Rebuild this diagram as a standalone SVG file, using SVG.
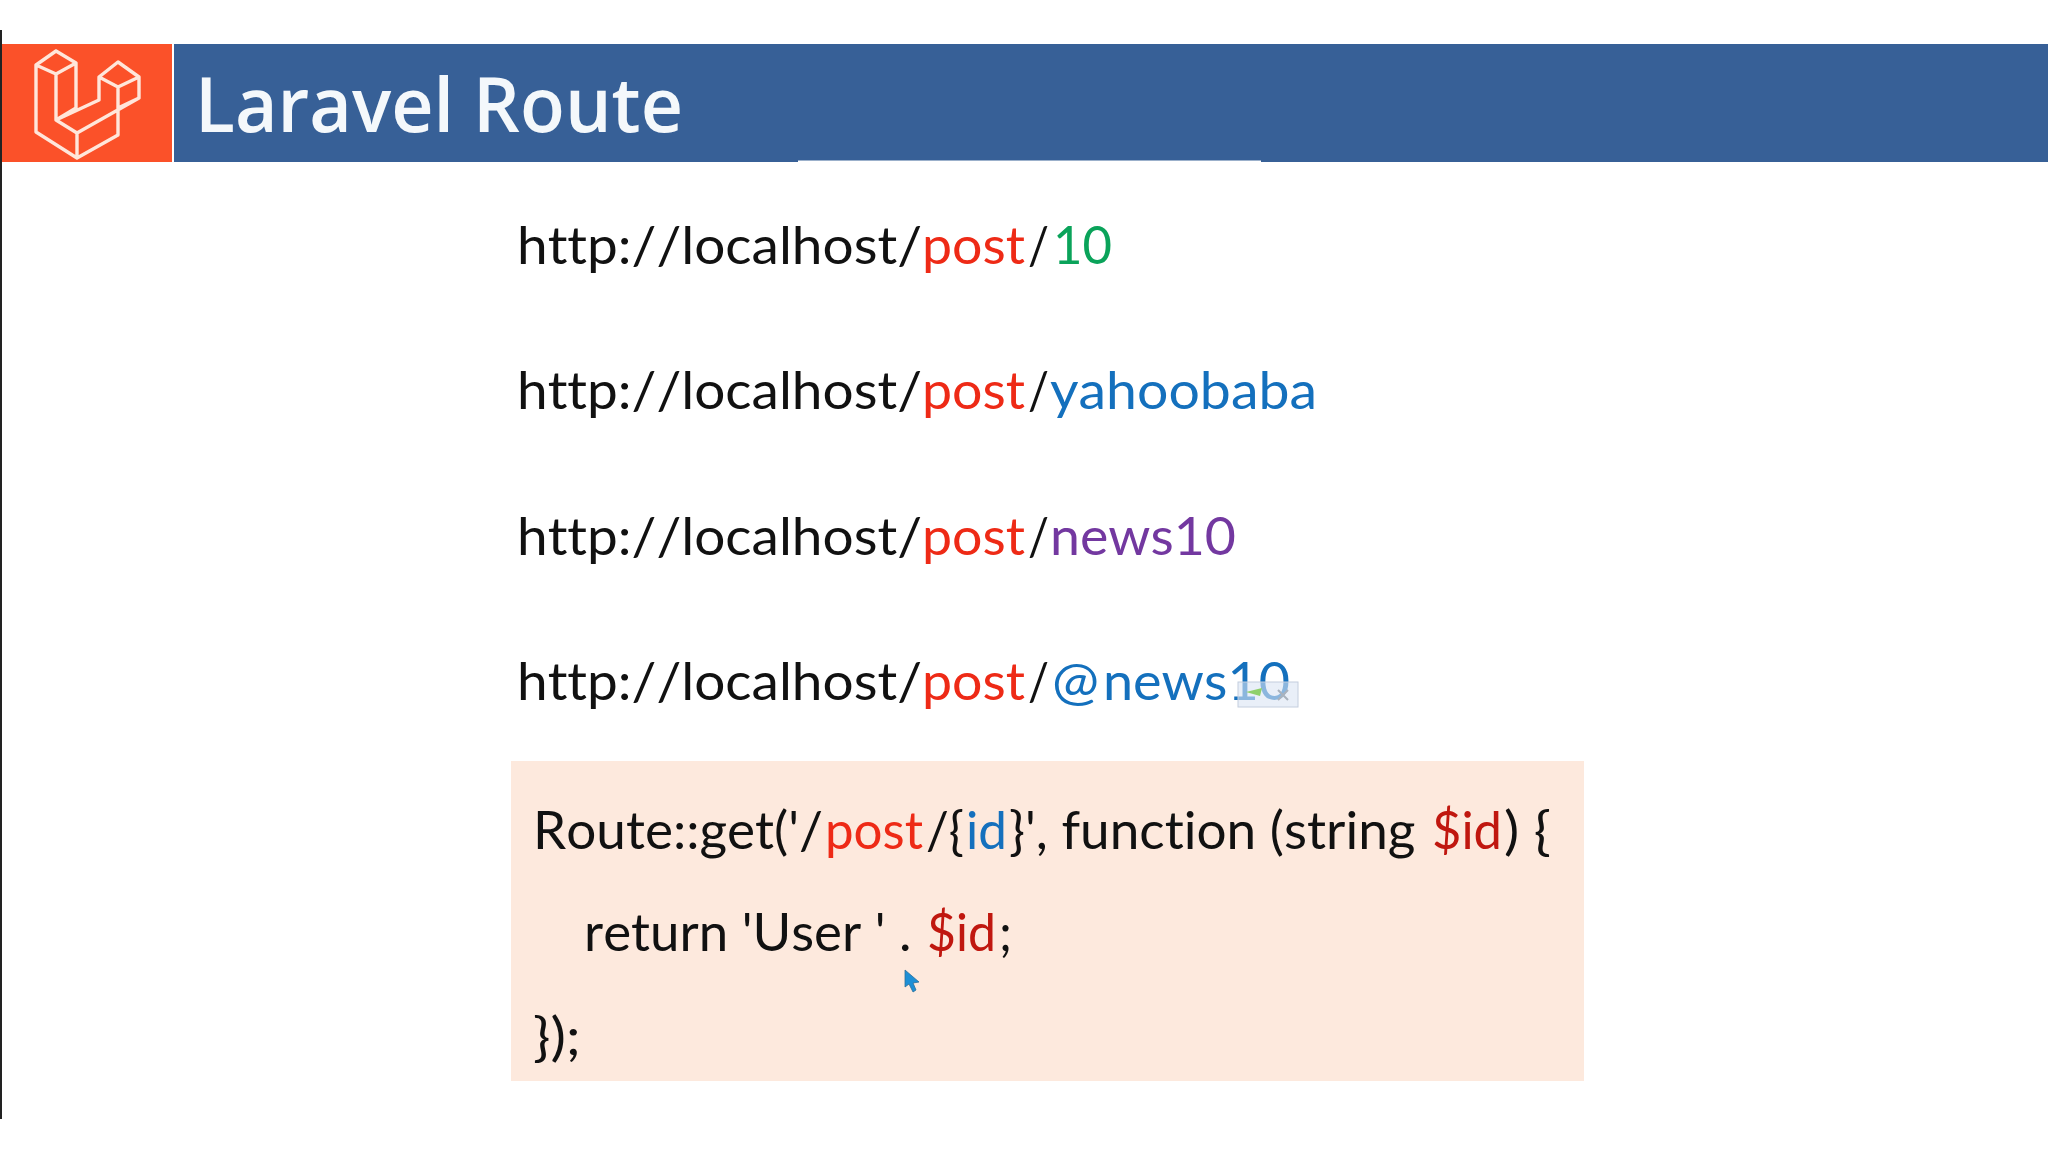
<svg xmlns="http://www.w3.org/2000/svg" width="2048" height="1152" viewBox="0 0 2048 1152">
<style>
text{font-family:"Lato","Liberation Sans",sans-serif;font-size:52px;fill:#111;white-space:pre;font-variant-ligatures:none;font-kerning:none}
.t{font-family:"Open Sans","Liberation Sans",sans-serif;font-size:76px;font-weight:600;fill:#f4f8fb}
.r{fill:#ee2a16}.d{fill:#c0170f}.g{fill:#0aa35a}.b{fill:#1470bd}.p{fill:#7338a0}
.logo{fill:none;stroke:#ffe6da;stroke-width:3.4;stroke-linejoin:round;stroke-linecap:round}
</style>
<rect width="2048" height="1152" fill="#fff"/>
<rect x="0" y="30" width="2" height="1089" fill="#222"/>
<g id="header">
<rect x="2" y="44" width="170" height="118" fill="#fb5129"/>
<rect x="174" y="44" width="1874" height="118" fill="#376097"/>
<rect x="798" y="160.5" width="463" height="2" fill="#fff"/>
<path class="logo" d="M56 51L36 65V132L77 158L118 135V108L139 98V77L118 62L99 77V100L56 120V74L36 65M56 51L76 63L56 74M76 63V108L56 120L77 133V158M77 133L139 98M99 77L118 87L139 77M118 87V135"/>
<text class="t" x="195" y="132" textLength="488" lengthAdjust="spacingAndGlyphs">Laravel Route</text>
</g>
<g id="urls">
<text x="517" y="264" textLength="405" lengthAdjust="spacingAndGlyphs">http://localhost/</text>
<text class="r" x="922" y="264" textLength="103" lengthAdjust="spacingAndGlyphs">post</text>
<text x="1028" y="264" textLength="21" lengthAdjust="spacingAndGlyphs">/</text>
<text class="g" x="1053" y="264" textLength="59" lengthAdjust="spacingAndGlyphs">10</text>
<text x="517" y="409" textLength="405" lengthAdjust="spacingAndGlyphs">http://localhost/</text>
<text class="r" x="922" y="409" textLength="103" lengthAdjust="spacingAndGlyphs">post</text>
<text x="1028" y="409" textLength="21" lengthAdjust="spacingAndGlyphs">/</text>
<text class="b" x="1050" y="409" textLength="267" lengthAdjust="spacingAndGlyphs">yahoobaba</text>
<text x="517" y="555" textLength="405" lengthAdjust="spacingAndGlyphs">http://localhost/</text>
<text class="r" x="922" y="555" textLength="103" lengthAdjust="spacingAndGlyphs">post</text>
<text x="1028" y="555" textLength="21" lengthAdjust="spacingAndGlyphs">/</text>
<text class="p" x="1050" y="555" textLength="186" lengthAdjust="spacingAndGlyphs">news10</text>
<text x="517" y="700" textLength="405" lengthAdjust="spacingAndGlyphs">http://localhost/</text>
<text class="r" x="922" y="700" textLength="103" lengthAdjust="spacingAndGlyphs">post</text>
<text x="1028" y="700" textLength="21" lengthAdjust="spacingAndGlyphs">/</text>
<text class="b" x="1052" y="700" textLength="47" lengthAdjust="spacingAndGlyphs">@</text>
<text class="b" x="1103" y="700" textLength="187" lengthAdjust="spacingAndGlyphs">news10</text>
<g id="popup"><rect x="1238" y="682" width="60" height="25" fill="#dbe5f3" fill-opacity=".6" stroke="#c4cede"/><path d="M1246 692L1262 688L1260 696Z" fill="#8fd06a"/><path d="M1278 690L1288 700M1288 690L1278 700" stroke="#a9b2bd" stroke-width="2"/></g>
</g>
<g id="code">
<rect x="511" y="761" width="1073" height="320" fill="#fde9dd"/>
<text x="533" y="849" textLength="290" lengthAdjust="spacingAndGlyphs">Route::get('/</text>
<text class="r" x="825" y="849" textLength="98" lengthAdjust="spacingAndGlyphs">post</text>
<text x="926" y="849" textLength="38" lengthAdjust="spacingAndGlyphs">/{</text>
<text class="b" x="966" y="849" textLength="41" lengthAdjust="spacingAndGlyphs">id</text>
<text x="1009" y="849" textLength="420" lengthAdjust="spacingAndGlyphs">}', function (string </text>
<text class="d" x="1432" y="849" textLength="70" lengthAdjust="spacingAndGlyphs">$id</text>
<text x="1504" y="849" textLength="47" lengthAdjust="spacingAndGlyphs">) {</text>
<text x="584" y="951" textLength="341" lengthAdjust="spacingAndGlyphs">return 'User ' . </text>
<text class="d" x="927" y="951" textLength="69" lengthAdjust="spacingAndGlyphs">$id</text>
<text x="999" y="951" textLength="13" lengthAdjust="spacingAndGlyphs">;</text>
<text x="533" y="1055" textLength="48" lengthAdjust="spacingAndGlyphs">});</text>
</g>
<path id="cursor" d="M905 970L905 987L909 984L913 992L916 990L913 983L919 982Z" fill="#1d8fd6" stroke="#2b6f99" stroke-width=".8"/>
</svg>
